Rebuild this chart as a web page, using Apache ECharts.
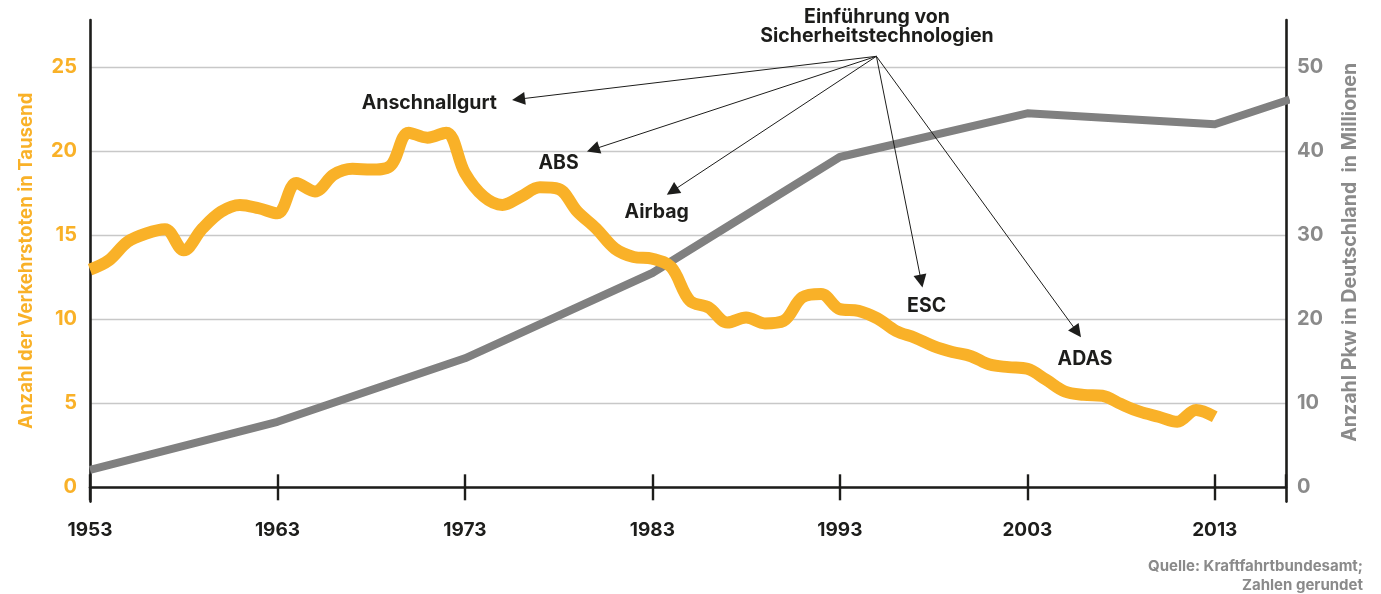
<!DOCTYPE html>
<html><head><meta charset="utf-8">
<script src="https://cdn.jsdelivr.net/npm/echarts@6/dist/echarts.min.js"></script>
<style>html,body{margin:0;padding:0;background:#fff}#c{width:1381px;height:594px}</style>
</head><body><div id="c"></div>
<script>
// Verkehrstote (Tausend), Jahre 1953-2013
const years = [1953,1954,1955,1956,1957,1958,1959,1960,1961,1962,1963,1964,1965,1966,1967,1968,1969,1970,1971,1972,1973,1974,1975,1976,1977,1978,1979,1980,1981,1982,1983,1984,1985,1986,1987,1988,1989,1990,1991,1992,1993,1994,1995,1996,1997,1998,1999,2000,2001,2002,2003,2004,2005,2006,2007,2008,2009,2010,2011,2012,2013];
const deaths = [12.95,13.5,14.6,15.1,15.35,14.1,15.4,16.4,16.8,16.6,16.3,18.1,17.6,18.6,18.95,18.9,19.1,21.1,20.8,21.1,18.7,17.3,16.8,17.3,17.85,17.75,16.4,15.4,14.2,13.7,13.6,13.1,11.1,10.7,9.8,10.1,9.75,9.9,11.3,11.5,10.6,10.5,10.05,9.3,8.9,8.4,8.05,7.8,7.3,7.15,7.05,6.4,5.7,5.5,5.45,4.95,4.5,4.2,3.9,4.6,4.2];
// Pkw-Bestand (Millionen)
const carYears = [1953,1963,1973,1983,1993,2003,2013,2017];
const cars = [2.06,7.8,15.35,25.5,39.3,44.5,43.2,46.15];
// Annotationen (Jahr, Wert auf linker Achse)
const annoSource = [1994.95, 25.64];
const annoNames = ['Anschnallgurt','ABS','Airbag','ESC','ADAS'];
const annoArrowEnds = [[1975.86,23.09],[1979.84,20.1],[1984.06,17.62],[1997.34,12.27],[2005.66,9.24]];
const annoLabelPos = [[1971.1,22.86],[1978.0,19.29],[1983.23,16.38],[1997.63,10.79],[2006.08,7.63]];
const titleText = 'Einführung von\nSicherheitstechnologien';
const sourceText = 'Quelle: Kraftfahrtbundesamt;\nZahlen gerundet';

const FONT = 'Inter';
const ORANGE = '#F9B128';
const GRAY = '#808080';
const DARK = '#1d1d1b';

const chart = echarts.init(document.getElementById('c'), null, {renderer: 'canvas'});
const xCommon = {
  type: 'value', min: 1953, max: 2016.8, interval: 10,
  splitLine: {show: false},
  axisLine: {onZero: true}
};
chart.setOption({
  animation: false,
  grid: {left: 90, right: 95, top: 20, bottom: 92.4},
  xAxis: [
    Object.assign({}, xCommon, {
      position: 'bottom',
      axisLine: {show: true, onZero: true, lineStyle: {color: DARK, width: 2.6}},
      axisTick: {show: true, inside: false, length: 13, lineStyle: {color: DARK, width: 2.4}},
      axisLabel: {show: true, margin: 19, color: DARK, fontFamily: FONT, fontWeight: 'bold', fontSize: 19,
        showMaxLabel: false, formatter: v => (Number.isInteger(v) ? String(v) : '')}
    }),
    Object.assign({}, xCommon, {
      position: 'bottom',
      axisLine: {show: false, onZero: true},
      axisTick: {show: true, inside: true, length: 13, lineStyle: {color: DARK, width: 2.4}},
      axisLabel: {show: false}
    })
  ],
  yAxis: [
    {
      type: 'value', position: 'left', min: -0.85, max: 27.8, minInterval: 5, maxInterval: 5,
      axisLine: {show: true, lineStyle: {color: DARK, width: 2.6}},
      axisTick: {show: false},
      axisLabel: {margin: 13, color: ORANGE, fontFamily: FONT, fontWeight: 'bold', fontSize: 20,
        showMinLabel: false, showMaxLabel: false, formatter: v => String(Math.round(v))},
      splitLine: {show: true, showMinLine: false, showMaxLine: false, lineStyle: {color: '#c8c8c8', width: 1.3}},
      name: 'Anzahl der Verkehrstoten in Tausend', nameLocation: 'middle', nameRotate: 90, nameGap: 54,
      nameTextStyle: {color: ORANGE, fontFamily: FONT, fontWeight: 'bold', fontSize: 18.6}
    },
    {
      type: 'value', position: 'right', min: -1.7, max: 55.6, minInterval: 10, maxInterval: 10,
      axisLine: {show: true, lineStyle: {color: DARK, width: 2.6}},
      axisTick: {show: false},
      axisLabel: {margin: 11, color: '#8a8a8a', fontFamily: FONT, fontWeight: 'bold', fontSize: 20,
        showMinLabel: false, showMaxLabel: false, formatter: v => String(Math.round(v))},
      splitLine: {show: false},
      name: 'Anzahl Pkw in Deutschland  in Millionen', nameLocation: 'middle', nameRotate: 90, nameGap: 54,
      nameTextStyle: {color: '#8a8a8a', fontFamily: FONT, fontWeight: 'bold', fontSize: 19.6, padding: [0, 0, 0, 17]}
    }
  ],
  series: [
    {
      type: 'line', name: 'Pkw', xAxisIndex: 0, yAxisIndex: 1, z: 2,
      data: carYears.map((y, i) => [y, cars[i]]),
      symbol: 'none', smooth: false,
      lineStyle: {color: GRAY, width: 8, join: 'round'}
    },
    {
      type: 'line', name: 'Verkehrstote', xAxisIndex: 0, yAxisIndex: 0, z: 3,
      data: years.map((y, i) => [y, deaths[i]]),
      symbol: 'none', smooth: 0.35,
      lineStyle: {color: ORANGE, width: 12, join: 'round'},
      markLine: {
        silent: true, animation: false,
        symbol: ['none', 'triangle'], symbolSize: 13,
        lineStyle: {color: DARK, width: 1, type: 'solid'},
        label: {show: false},
        emphasis: {disabled: true},
        data: annoArrowEnds.map(e => [{coord: annoSource}, {coord: e}])
      },
      markPoint: {
        silent: true, animation: false,
        symbol: 'circle', symbolSize: 1,
        itemStyle: {color: 'rgba(0,0,0,0)'},
        label: {show: true, position: 'inside', color: DARK, fontFamily: FONT, fontWeight: 'bold', fontSize: 19.5},
        data: annoNames.map((n, i) => ({name: n, coord: annoLabelPos[i], label: {formatter: n}}))
      }
    }
  ],
  graphic: [
    {type: 'text', x: 877, y: 27, silent: true,
      style: {text: titleText, textAlign: 'center', textVerticalAlign: 'middle', fontFamily: FONT, fontWeight: 'bold', fontSize: 19.5, lineHeight: 19, fill: DARK}},
    {type: 'text', x: 1363, y: 576, silent: true,
      style: {text: sourceText, textAlign: 'right', textVerticalAlign: 'middle', fontFamily: FONT, fontWeight: 'bold', fontSize: 15, lineHeight: 19, fill: '#8a8a8a'}}
  ]
});
</script>
</body></html>
